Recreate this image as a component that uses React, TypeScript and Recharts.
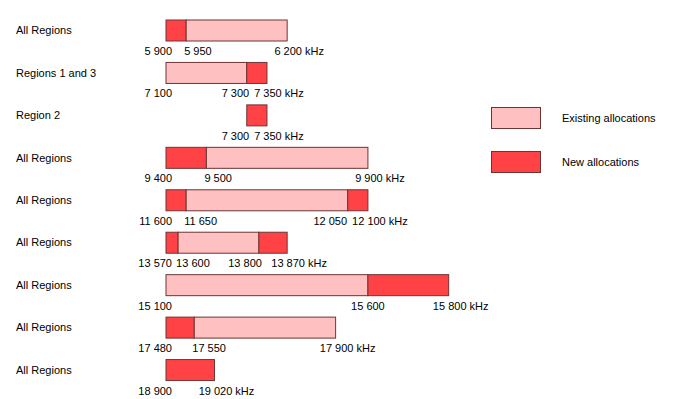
import { BarChart, Bar, XAxis, YAxis } from "recharts";

// one row per band; every row is drawn left-aligned at its own origin
const rowLabels = [
  "All Regions",
  "Regions 1 and 3",
  "Region 2",
  "All Regions",
  "All Regions",
  "All Regions",
  "All Regions",
  "All Regions",
  "All Regions",
];
const rowOrigins = [5900, 7100, 7100, 9400, 11600, 13570, 15100, 17480, 18900];
const bandEdges = [
  [5900, 5950, 6200],
  [7100, 7300, 7350],
  [7300, 7350],
  [9400, 9500, 9900],
  [11600, 11650, 12050, 12100],
  [13570, 13600, 13800, 13870],
  [15100, 15600, 15800],
  [17480, 17550, 17900],
  [18900, 19020],
];
const bandKinds = [
  ["new", "existing"],
  ["existing", "new"],
  ["new"],
  ["new", "existing"],
  ["new", "existing", "new"],
  ["new", "existing", "new"],
  ["existing", "new"],
  ["new", "existing"],
  ["new"],
];
const legendItems = [
  { kind: "existing", label: "Existing allocations" },
  { kind: "new", label: "New allocations" },
];

const EXISTING = "#ffc0c1";
const NEW = "#ff4245";
const EDGE = "#6e3434";
const FONT = "'Liberation Sans', Arial, Helvetica, sans-serif";
const FS = 11;

const data = rowLabels.map((label, i) => {
  const e = bandEdges[i];
  const row: any = { label, offset: e[0] - rowOrigins[i] };
  for (let k = 0; k < e.length - 1; k++) row[`s${k}`] = e[k + 1] - e[k];
  return row;
});

const fmt = (n: number) => String(n).replace(/\B(?=(\d{3})+(?!\d))/g, " ");
const textW = (s: string) => {
  let w = 0;
  for (const c of s) w += c === " " ? 0.278 * FS : 0.556 * FS;
  return w;
};

const makeShape = (k: number) => (props: any) => {
  const { x, y, width, height, index } = props;
  if (!width || width <= 0 || index == null) return <g />;
  const edges = bandEdges[index];
  const kinds = bandKinds[index];
  if (k >= kinds.length) return <g />;
  const ty = y + height + 14;
  const right = x + width;
  const pxPerKhz = width / (edges[k + 1] - edges[k]);
  const last = k + 1 === edges.length - 1;
  const lastStart = (edge: number) => edge + 1 - textW(fmt(edges[edges.length - 1])) / 2;
  const labels: any[] = [];
  if (k === 0) {
    let lx = x + 6;
    if (edges.length === 2) lx = Math.min(lx, lastStart(right) - 5);
    labels.push(
      <text key="l" x={lx} y={ty} textAnchor="end" fontFamily={FONT} fontSize={FS} fill="#000">
        {fmt(edges[0])}
      </text>
    );
  }
  if (last) {
    labels.push(
      <text key="r" x={lastStart(right)} y={ty} textAnchor="start" fontFamily={FONT} fontSize={FS} fill="#000">
        {fmt(edges[k + 1])} kHz
      </text>
    );
  } else {
    const prev = (edges[k + 1] - edges[k]) * pxPerKhz;
    const next = (edges[k + 2] - edges[k + 1]) * pxPerKhz;
    let anchor: "start" | "end" | "middle";
    let lx: number;
    if (prev >= 60 && next >= 60) {
      anchor = "middle";
      lx = right;
    } else if (next > prev) {
      anchor = "start";
      lx = right - 2;
    } else {
      anchor = "end";
      lx = right + 3;
      // keep clear of the label on the next edge
      const nextX = right + next;
      const nextStart = k + 2 === edges.length - 1 ? lastStart(nextX) : nextX - 2;
      lx = Math.min(lx, nextStart - 5);
    }
    labels.push(
      <text key="r" x={lx} y={ty} textAnchor={anchor} fontFamily={FONT} fontSize={FS} fill="#000">
        {fmt(edges[k + 1])}
      </text>
    );
  }
  return (
    <g>
      <rect
        x={x}
        y={y}
        width={width}
        height={height}
        fill={kinds[k] === "new" ? NEW : EXISTING}
        stroke={EDGE}
        strokeWidth={1}
      />
      {labels}
    </g>
  );
};

const RowTick = (props: any) => {
  const { y, payload } = props;
  return (
    <text x={16} y={y} dy={4} textAnchor="start" fontFamily={FONT} fontSize={FS} fill="#000">
      {payload.value}
    </text>
  );
};

export default function App() {
  return (
    <div style={{ position: "absolute", left: 0, top: 0, width: 691, height: 399, background: "#fff" }}>
      <BarChart
        width={691}
        height={399}
        data={data}
        layout="vertical"
        margin={{ top: 9, right: 0, bottom: 8, left: 0 }}
        barCategoryGap={0}
      >
        <XAxis type="number" domain={[0, 1300]} hide />
        <YAxis
          type="category"
          dataKey="label"
          width={166}
          axisLine={false}
          tickLine={false}
          interval={0}
          tick={<RowTick />}
        />
        <Bar dataKey="offset" stackId="a" fill="none" barSize={21} isAnimationActive={false} />
        <Bar dataKey="s0" stackId="a" barSize={21} shape={makeShape(0)} isAnimationActive={false} />
        <Bar dataKey="s1" stackId="a" barSize={21} shape={makeShape(1)} isAnimationActive={false} />
        <Bar dataKey="s2" stackId="a" barSize={21} shape={makeShape(2)} isAnimationActive={false} />
      </BarChart>
      {legendItems.map((it, i) => (
        <div key={it.kind}>
          <div
            style={{
              position: "absolute",
              left: 491,
              top: 107 + i * 44,
              width: 48,
              height: 20,
              background: it.kind === "new" ? NEW : EXISTING,
              border: `1px solid ${EDGE}`,
            }}
          />
          <div
            style={{
              position: "absolute",
              left: 562,
              top: 107 + i * 44,
              height: 22,
              lineHeight: "22px",
              fontFamily: FONT,
              fontSize: FS,
              color: "#000",
              whiteSpace: "nowrap",
            }}
          >
            {it.label}
          </div>
        </div>
      ))}
    </div>
  );
}
